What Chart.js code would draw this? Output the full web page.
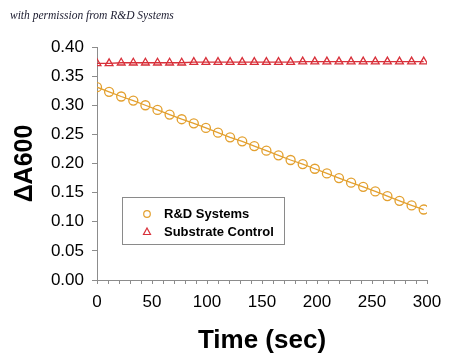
<!DOCTYPE html>
<html>
<head>
<meta charset="utf-8">
<script src="https://cdn.jsdelivr.net/npm/chart.js@4/dist/chart.umd.min.js"></script>
<style>
  html,body{margin:0;padding:0;background:#fff;}
  #wrap{position:relative;width:450px;height:356px;}
  #note{position:absolute;left:10px;top:9px;font-family:"Liberation Serif","DejaVu Serif",serif;font-style:italic;font-size:11.5px;color:#1a1a2e;white-space:nowrap;}
</style>
</head>
<body>
<div id="wrap">
  <canvas id="c" width="450" height="356"></canvas>
  <div id="note">with permission from R&amp;D Systems</div>
</div>
<script>
const timeSec = [0,11,22,33,44,55,66,77,88,99,110,121,132,143,154,165,176,187,198,209,220,231,242,253,264,275,286,297];
const rdSystems = [0.331,0.323,0.315,0.308,0.300,0.292,0.284,0.276,0.269,0.261,0.253,0.245,0.238,0.230,0.222,0.214,0.206,0.199,0.191,0.183,0.175,0.167,0.160,0.152,0.144,0.136,0.128,0.121];
const substrateControl = [0.372,0.372,0.373,0.373,0.373,0.373,0.373,0.373,0.374,0.374,0.374,0.374,0.374,0.374,0.374,0.374,0.374,0.375,0.375,0.375,0.375,0.375,0.375,0.375,0.375,0.375,0.375,0.375];
const seriesLabels = ["R&D Systems","Substrate Control"];
const xTickLabels = [0,50,100,150,200,250,300];
const yTickLabels = ["0.00","0.05","0.10","0.15","0.20","0.25","0.30","0.35","0.40"];

const ORANGE = '#E3A02F';
const RED = '#D8303A';
const FONT = '"Liberation Sans", Arial, sans-serif';

const legendBox = {
  id: 'legendBox',
  afterDraw(chart) {
    const ctx = chart.ctx;
    ctx.save();
    const x0 = 122, y0 = 197, w = 162, h = 47;
    ctx.fillStyle = '#fff';
    ctx.fillRect(x0, y0, w, h);
    ctx.strokeStyle = '#8a8a8a';
    ctx.lineWidth = 1;
    ctx.strokeRect(x0 + 0.5, y0 + 0.5, w, h);
    ctx.font = 'bold 13px ' + FONT;
    ctx.textBaseline = 'middle';
    ctx.fillStyle = '#000';
    const rows = [214, 232];
    chart.data.datasets.forEach((ds, i) => {
      const y = rows[i];
      ctx.strokeStyle = ds.borderColor;
      ctx.lineWidth = 1.2;
      ctx.beginPath();
      if (ds.pointStyle === 'triangle') {
        ctx.moveTo(147, y - 4);
        ctx.lineTo(150.5, y + 2.5);
        ctx.lineTo(143.5, y + 2.5);
        ctx.closePath();
      } else {
        ctx.arc(147, y, 3.3, 0, Math.PI * 2);
      }
      ctx.stroke();
      ctx.fillStyle = '#000';
      ctx.fillText(ds.label, 164, y);
    });
    ctx.restore();
  }
};

new Chart(document.getElementById('c'), {
  type: 'line',
  data: {
    datasets: [
      {
        label: seriesLabels[0],
        data: timeSec.map((t, i) => ({x: t, y: rdSystems[i]})),
        borderColor: ORANGE,
        borderWidth: 1.3,
        pointStyle: 'circle',
        pointRadius: 4.5,
        pointBorderWidth: 1.3,
        pointBorderColor: ORANGE,
        pointBackgroundColor: 'rgba(255,255,255,0)',
        tension: 0
      },
      {
        label: seriesLabels[1],
        data: timeSec.map((t, i) => ({x: t, y: substrateControl[i]})),
        borderColor: RED,
        borderWidth: 1.3,
        pointStyle: 'triangle',
        pointRadius: 4.5,
        pointBorderWidth: 1.3,
        pointBorderColor: RED,
        pointBackgroundColor: 'rgba(255,255,255,0)',
        tension: 0
      }
    ]
  },
  options: {
    responsive: false,
    animation: false,
    layout: { padding: { top: 47, right: 23, left: 10, bottom: 0 } },
    plugins: { legend: { display: false }, tooltip: { enabled: false } },
    scales: {
      x: {
        type: 'linear',
        min: 0, max: 300,
        border: { display: true, color: '#8c8c8c', width: 1 },
        grid: { drawOnChartArea: false, drawTicks: true, tickLength: 4, color: '#8c8c8c' },
        ticks: {
          stepSize: 10,
          autoSkip: false,
          maxRotation: 0,
          padding: 8,
          color: '#000',
          font: { family: FONT, size: 17 },
          callback: (v) => xTickLabels.includes(v) ? String(v) : ''
        },
        title: {
          display: true,
          text: 'Time (sec)',
          color: '#000',
          font: { family: FONT, size: 26, weight: 'bold' },
          padding: { top: 8, bottom: 0 }
        },
        afterFit: (s) => { s.height = 76; }
      },
      y: {
        min: 0, max: 0.4,
        border: { display: true, color: '#8c8c8c', width: 1 },
        grid: { drawOnChartArea: false, drawTicks: true, tickLength: 5, color: '#8c8c8c' },
        ticks: {
          stepSize: 0.05,
          padding: 8,
          color: '#000',
          font: { family: FONT, size: 17 },
          callback: (v) => yTickLabels[Math.round(v / 0.05)]
        },
        title: {
          display: true,
          text: 'ΔA600',
          color: '#000',
          font: { family: FONT, size: 25, weight: 'bold' },
          padding: { top: 0, bottom: 10 }
        },
        afterFit: (s) => { s.width = 87; }
      }
    }
  },
  plugins: [legendBox]
});
</script>
</body>
</html>
